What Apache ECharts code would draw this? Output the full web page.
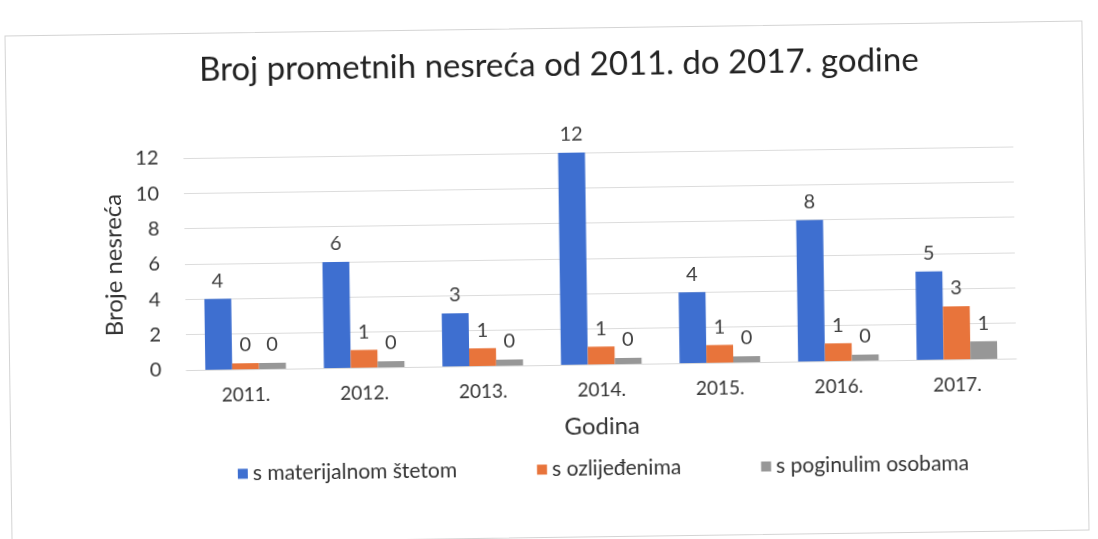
<!DOCTYPE html>
<html>
<head>
<meta charset="utf-8">
<script src="https://cdn.jsdelivr.net/npm/echarts@6/dist/echarts.min.js"></script>
<style>
  html, body { margin: 0; padding: 0; background: #fff; }
  #wrap {
    position: relative;
    width: 1098px;
    height: 539px;
    overflow: hidden;
  }
  #frame {
    position: absolute;
    left: 8px; top: 28px;
    width: 1076px; height: 508px;
    border: 1px solid #d4d4d4;
    transform: rotate(-0.8deg);
    transform-origin: 50% 50%;
  }
  #chart {
    position: absolute;
    left: 0; top: 0;
    width: 1098px; height: 539px;
    transform: rotate(-0.8deg);
    transform-origin: 50% 50%;
  }
</style>
</head>
<body>
<div id="wrap">
  <div id="frame"></div>
  <div id="chart"></div>
</div>
<script>
// godine
const years = ['2011.', '2012.', '2013.', '2014.', '2015.', '2016.', '2017.']
// broj nesreća po vrsti
const materijalnaSteta = [4, 6, 3, 12, 4, 8, 5]
const ozlijedeni = [0, 1, 1, 1, 1, 1, 3]
const poginuli = [0, 0, 0, 0, 0, 0, 1]
const yTicks = { min: 0, max: 12, interval: 2 }

const font = 'Lato, "Open Sans", "Noto Sans", sans-serif'

const makeSeries = (name, data, color) => ({
  name: name,
  type: 'bar',
  data: data,
  barGap: '0%',
  barCategoryGap: '32%',
  barMinHeight: 6,
  itemStyle: { color: color },
  label: {
    show: true,
    position: 'top',
    distance: 8,
    color: '#404040',
    fontSize: 20,
    fontFamily: font,
  },
})

var chart = echarts.init(document.getElementById('chart'))
chart.setOption({
  animation: false,
  textStyle: { fontFamily: font },
  title: {
    text: 'Broj prometnih nesreća od 2011. do 2017. godine',
    left: 197,
    top: 44,
    textStyle: { fontSize: 33, fontWeight: 'normal', color: '#222', fontFamily: font },
  },
  grid: { left: 185, right: 83, top: 153, bottom: 174 },
  legend: {
    bottom: 54,
    left: 230,
    itemWidth: 10,
    itemHeight: 10,
    itemGap: 80,
    icon: 'rect',
    textStyle: { fontSize: 21, color: '#333', fontFamily: font },
  },
  xAxis: {
    type: 'category',
    data: years,
    name: 'Godina',
    nameLocation: 'middle',
    nameGap: 50,
    nameTextStyle: { fontSize: 24, color: '#333' },
    axisLine: { lineStyle: { color: '#d9d9d9' } },
    axisTick: { show: false },
    axisLabel: { fontSize: 19, color: '#333', margin: 16 },
  },
  yAxis: {
    type: 'value',
    min: yTicks.min,
    max: yTicks.max,
    interval: yTicks.interval,
    name: 'Broje nesreća',
    nameLocation: 'middle',
    nameGap: 56,
    nameTextStyle: { fontSize: 24, color: '#333' },
    axisLine: { show: false },
    axisTick: { show: false },
    axisLabel: { fontSize: 20, color: '#333', margin: 25 },
    splitLine: { lineStyle: { color: '#dcdcdc' } },
  },
  series: [
    makeSeries('s materijalnom štetom', materijalnaSteta, '#3E6FD0'),
    makeSeries('s ozlijeđenima', ozlijedeni, '#E8743B'),
    makeSeries('s poginulim osobama', poginuli, '#979797'),
  ],
})
</script>
</body>
</html>
